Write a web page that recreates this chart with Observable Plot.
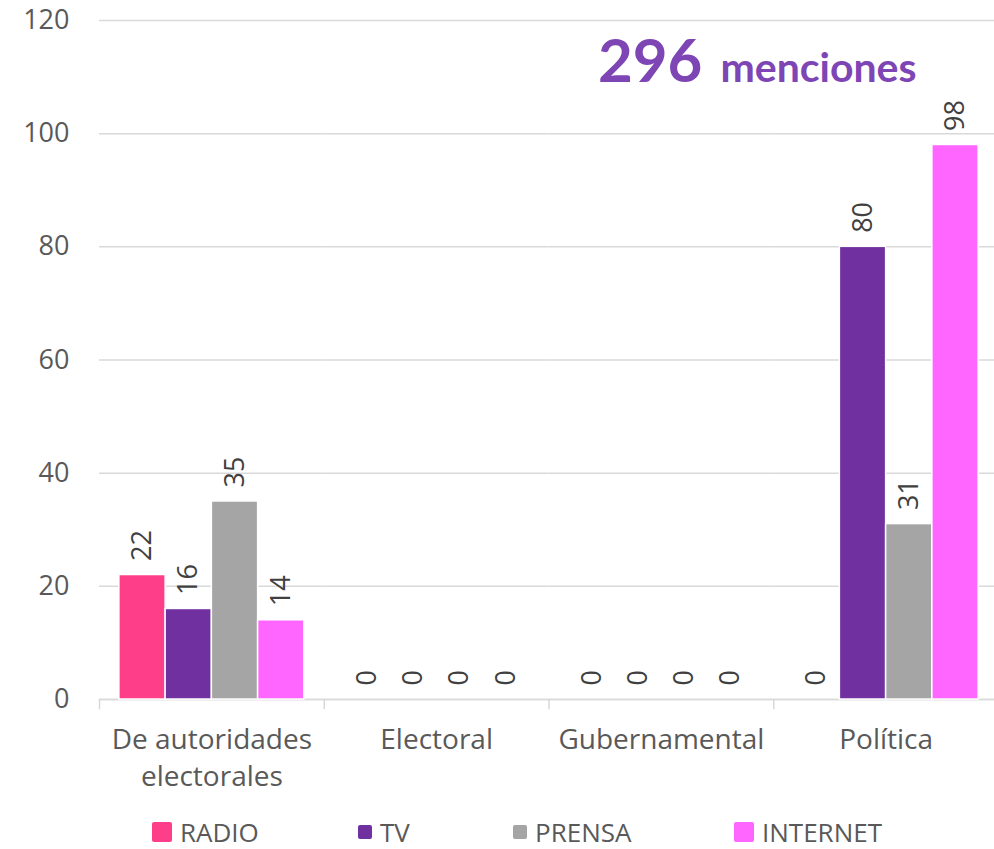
<!DOCTYPE html>
<html>
<head>
<meta charset="utf-8">
<script src="https://cdn.jsdelivr.net/npm/d3@7"></script>
<script src="https://cdn.jsdelivr.net/npm/@observablehq/plot@0.6"></script>
<style>
  html, body { margin: 0; padding: 0; background: #fff; }
  #wrap { position: relative; width: 994px; height: 849px; overflow: hidden; font-family: "Open Sans", sans-serif; }
  #title { position: absolute; left: 598px; top: 29px; display: flex; align-items: baseline; color: #7E45B4; font-family: Lato, sans-serif; font-weight: 700; line-height: 1; white-space: nowrap; }
  #title .big { font-size: 60px; }
  #title .small { font-size: 41px; margin-left: 18px; }
  .leg { position: absolute; top: 818px; display: flex; align-items: center; height: 28px; line-height: 1; font-size: 26px; color: #595959; }
  .leg .sw { display: inline-block; margin-right: 8px; border-radius: 2px; }
</style>
</head>
<body>
<div id="wrap">
  <div id="chart"></div>
  <div id="title"><span class="big">296</span><span class="small">menciones</span></div>
  <div id="legend"></div>
</div>
<script>
const categories = ["De autoridades electorales", "Electoral", "Gubernamental", "Política"];
const categoryLabels = ["De autoridades\nelectorales", "Electoral", "Gubernamental", "Política"];
const series = ["RADIO", "TV", "PRENSA", "INTERNET"];
const radio = [22, 0, 0, 0];
const tv = [16, 0, 0, 80];
const prensa = [35, 0, 0, 31];
const internet = [14, 0, 0, 98];
const colors = ["#FF3E8A", "#7030A0", "#A5A5A5", "#FF66FF"];
const yTicks = [0, 20, 40, 60, 80, 100, 120];

const valuesBySeries = [radio, tv, prensa, internet];
const data = [];
categories.forEach((c, i) => {
  series.forEach((s, j) => {
    data.push({category: c, series: s, value: valuesBySeries[j][i]});
  });
});
const labelMap = new Map(categories.map((c, i) => [c, categoryLabels[i]]));

const chart = Plot.plot({
  width: 994,
  height: 815,
  marginLeft: 99,
  marginRight: -4,
  marginTop: 20,
  marginBottom: 116,
  style: {fontFamily: "'Open Sans', sans-serif", background: "transparent", overflow: "hidden"},
  fx: {domain: categories, padding: 0, label: null, round: false},
  x: {domain: series, paddingInner: 0, paddingOuter: 0.43, round: false, axis: null},
  y: {domain: [0, 120], label: null},
  color: {domain: series, range: colors},
  marks: [
    Plot.gridY(yTicks, {stroke: "#D9D9D9", strokeOpacity: 1, strokeWidth: 1.5}),
    Plot.axisY(yTicks, {tickSize: 0, tickPadding: 30, fontSize: 27, fill: "#595959", label: null}),
    Plot.axisFx({anchor: "bottom", tickSize: 0, tickPadding: 24, fontSize: 28, lineHeight: 1.3, fill: "#595959", label: null, tickFormat: d => labelMap.get(d)}),
    Plot.ruleY([0], {stroke: "#D9D9D9", strokeWidth: 1.5}),
    Plot.frame({anchor: "left", insetTop: 679, insetBottom: -9, stroke: "#D9D9D9", strokeWidth: 1.5}),
    Plot.barY(data, {fx: "category", x: "series", y: "value", fill: "series", stroke: "white", strokeWidth: 1.5, filter: d => d.value > 0}),
    Plot.text(data, {fx: "category", x: "series", y: "value", text: d => String(d.value), rotate: -90, textAnchor: "start", dy: -14, fontSize: 27, fill: "#404040"})
  ]
});
document.getElementById("chart").appendChild(chart);

const legendItems = [
  {name: series[0], left: 152, size: 20},
  {name: series[1], left: 358, size: 14},
  {name: series[2], left: 513, size: 14},
  {name: series[3], left: 734, size: 20}
];
const legend = document.getElementById("legend");
legendItems.forEach((it, i) => {
  const d = document.createElement("div");
  d.className = "leg";
  d.style.left = it.left + "px";
  const sw = document.createElement("span");
  sw.className = "sw";
  sw.style.width = it.size + "px";
  sw.style.height = it.size + "px";
  sw.style.background = colors[i];
  const t = document.createElement("span");
  t.textContent = it.name;
  d.appendChild(sw);
  d.appendChild(t);
  legend.appendChild(d);
});
</script>
</body>
</html>
